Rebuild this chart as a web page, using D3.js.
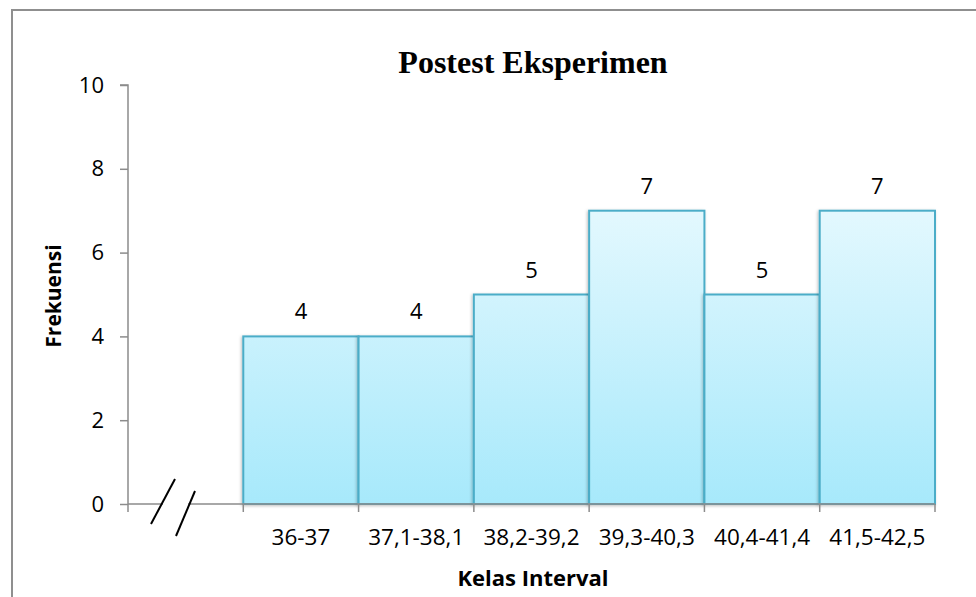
<!DOCTYPE html>
<html>
<head>
<meta charset="utf-8">
<script src="https://cdn.jsdelivr.net/npm/d3@7"></script>
<style>
  body { margin: 0; background: #fff; }
  svg { display: block; }
  .tick text { font-family: "Open Sans", "Noto Sans", sans-serif; }
</style>
</head>
<body>
<svg id="chart"></svg>
<script>
// data
const categories = ["", "36-37", "37,1-38,1", "38,2-39,2", "39,3-40,3", "40,4-41,4", "41,5-42,5"];
const frequencies = [null, 4, 4, 5, 7, 5, 7];
const yTicks = [0, 2, 4, 6, 8, 10];
const title = "Postest Eksperimen";
const xTitle = "Kelas Interval";
const yTitle = "Frekuensi";

const W = 976, H = 597;
const plot = { left: 128, right: 935, top: 85, bottom: 504 };
const labelFont = "'Open Sans', 'Noto Sans', sans-serif";

const svg = d3.select("#chart").attr("width", W).attr("height", H);

// gradient + soft shadow for the bars
const defs = svg.append("defs");
const grad = defs.append("linearGradient")
  .attr("id", "barFill")
  .attr("gradientUnits", "userSpaceOnUse")
  .attr("x1", 0).attr("x2", 0)
  .attr("y1", plot.top + 125).attr("y2", plot.bottom);
grad.append("stop").attr("offset", "0%").attr("stop-color", "#e3f8fe");
grad.append("stop").attr("offset", "100%").attr("stop-color", "#a7e9fb");

const shadow = defs.append("filter").attr("id", "shadow")
  .attr("x", "-10%").attr("y", "-10%").attr("width", "130%").attr("height", "130%");
shadow.append("feDropShadow")
  .attr("dx", -1).attr("dy", 1).attr("stdDeviation", 1.5)
  .attr("flood-color", "#000").attr("flood-opacity", 0.25);

// outer frame
svg.append("rect")
  .attr("x", 12).attr("y", 10)
  .attr("width", W).attr("height", H)
  .attr("fill", "none")
  .attr("stroke", "#8f8f8f")
  .attr("stroke-width", 2);

const x = d3.scaleBand()
  .domain(categories.map((d, i) => i))
  .range([plot.left, plot.right])
  .padding(0);

const y = d3.scaleLinear()
  .domain([0, 10])
  .range([plot.bottom, plot.top]);

// y axis
const yAxis = svg.append("g")
  .attr("transform", `translate(${plot.left},0)`)
  .call(d3.axisLeft(y).tickValues(yTicks).tickSize(8).tickPadding(16));
yAxis.attr("font-size", null).attr("font-family", null);
yAxis.selectAll("line, path").attr("stroke", "#8c8c8c").attr("stroke-width", 1.5);
yAxis.select(".domain").attr("d", `M-8,${y(10)}H0V${y(0)}`);
yAxis.selectAll("text").style("font-size", "22px").attr("fill", "#000");

// bars
const data = categories.map((c, i) => ({ i, c, v: frequencies[i] })).filter(d => d.v != null);

svg.append("g").selectAll("rect")
  .data(data)
  .join("rect")
  .attr("x", d => x(d.i))
  .attr("y", d => y(d.v))
  .attr("width", x.bandwidth())
  .attr("height", d => y(0) - y(d.v))
  .attr("fill", "url(#barFill)")
  .attr("stroke", "#4cadc8")
  .attr("stroke-width", 2)
  .attr("filter", "url(#shadow)");

// value labels
svg.append("g").selectAll("text")
  .data(data)
  .join("text")
  .attr("x", d => x(d.i) + x.bandwidth() / 2)
  .attr("y", d => y(d.v) - 17)
  .attr("text-anchor", "middle")
  .style("font-family", labelFont)
  .style("font-size", "22px")
  .text(d => d.v);

// x axis: ticks at every band boundary, labels centred in bands
const bounds = categories.map((c, i) => x(i)).concat([plot.right]);
const xAxis = svg.append("g");
xAxis.selectAll("line.tk")
  .data(bounds)
  .join("line")
  .attr("class", "tk")
  .attr("x1", d => d).attr("x2", d => d)
  .attr("y1", plot.bottom).attr("y2", plot.bottom + 8)
  .attr("stroke", "#8c8c8c").attr("stroke-width", 1.5);

// axis line with a gap for the break mark
const gapA = 163, gapB = 188;
xAxis.append("path")
  .attr("d", `M${plot.left},${plot.bottom}H${gapA}M${gapB},${plot.bottom}H${plot.right}`)
  .attr("stroke", "#8c8c8c").attr("stroke-width", 1.5).attr("fill", "none");

xAxis.selectAll("text")
  .data(categories.map((c, i) => ({ c, i })).filter(d => d.c))
  .join("text")
  .attr("x", d => x(d.i) + x.bandwidth() / 2)
  .attr("y", plot.bottom + 41)
  .attr("text-anchor", "middle")
  .style("font-family", labelFont)
  .style("font-size", "22.5px")
  .text(d => d.c);

// break mark "//"
const breakMarks = svg.append("g").attr("stroke", "#000").attr("stroke-width", 2);
breakMarks.append("line").attr("x1", 151).attr("y1", 524).attr("x2", 175).attr("y2", 479);
breakMarks.append("line").attr("x1", 176).attr("y1", 536).attr("x2", 195).attr("y2", 491);

// titles
svg.append("text")
  .attr("x", 533).attr("y", 73)
  .attr("text-anchor", "middle")
  .style("font-family", "'Liberation Serif', 'DejaVu Serif', serif")
  .style("font-weight", "bold")
  .style("font-size", "32px")
  .text(title);

svg.append("text")
  .attr("x", 533).attr("y", 586)
  .attr("text-anchor", "middle")
  .style("font-family", labelFont)
  .style("font-weight", "bold")
  .style("font-size", "22px")
  .text(xTitle);

svg.append("text")
  .attr("transform", "translate(61,296) rotate(-90)")
  .attr("text-anchor", "middle")
  .style("font-family", labelFont)
  .style("font-weight", "bold")
  .style("font-size", "21px")
  .text(yTitle);
</script>
</body>
</html>
